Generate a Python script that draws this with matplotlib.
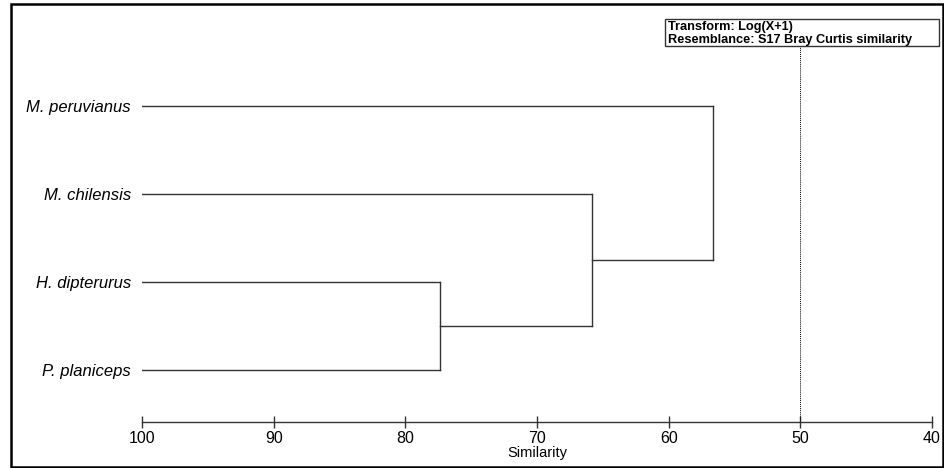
import numpy as np
import matplotlib.pyplot as plt
from matplotlib.patches import Rectangle

plt.rcParams['font.family'] = ['Liberation Sans', 'DejaVu Sans']

# leaves top to bottom
species = ['M. peruvianus', 'M. chilensis', 'H. dipterurus', 'P. planiceps']
# merges: (cluster a, cluster b, similarity) - clusters are leaf index or 'n#' for merged node
merges = [(2, 3, 77.4), (1, 'n0', 65.8), (0, 'n1', 56.6)]
xticks = [100, 90, 80, 70, 60, 50, 40]
cut_level = 50
legend_lines = ['Transform: Log(X+1)', 'Resemblance: S17 Bray Curtis similarity']

W, H = 944, 468
fig = plt.figure(figsize=(W / 100, H / 100), dpi=100)

# axes placed so that 100 -> 142px, 40 -> 932px, axis line at 422px
top_px, bot_px = 10, 422
ax = fig.add_axes([142 / W, 1 - bot_px / H, (932 - 142) / W, (bot_px - top_px) / H])

spacing = 88.0
leaf_y0 = 370  # px of bottom leaf
n = len(species)
ypos = {i: n - 1 - i for i in range(n)}  # data y of leaves
ylo = (leaf_y0 - bot_px) / spacing
yhi = (leaf_y0 - top_px) / spacing
ax.set_xlim(100, 40)
ax.set_ylim(ylo, yhi)

lc = '#333333'
xpos = {i: 100 for i in range(n)}
for k, (a, b, h) in enumerate(merges):
    ya, yb = ypos[a], ypos[b]
    ax.plot([xpos[a], h], [ya, ya], color=lc, lw=1.0)
    ax.plot([xpos[b], h], [yb, yb], color=lc, lw=1.0)
    ax.plot([h, h], [ya, yb], color=lc, lw=1.0)
    ypos['n%d' % k] = (ya + yb) / 2
    xpos['n%d' % k] = h

# cut line
ax.plot([cut_level, cut_level], [ylo, (leaf_y0 - 46) / spacing], color='black',
        lw=0.7, ls=(0, (1, 1)), clip_on=False)

for s in ['top', 'right', 'left']:
    ax.spines[s].set_visible(False)
ax.spines['bottom'].set_color(lc)
ax.spines['bottom'].set_linewidth(1.0)
ax.set_xticks(xticks)
ax.set_xticklabels([str(t) for t in xticks], fontsize=11.5)
ax.tick_params(axis='x', direction='inout', length=9, width=1.0, color=lc, pad=2)

ax.set_yticks([ypos[i] for i in range(n)])
ax.set_yticklabels(species, fontsize=12, style='italic')
ax.tick_params(axis='y', length=0, pad=8)
ax.set_xlabel('Similarity', fontsize=10.5, labelpad=0)

# outer frame
fig.patches.append(Rectangle((11 / W, 1 - 467 / H), (943 - 11) / W, (467 - 4) / H,
                             transform=fig.transFigure, fill=False,
                             edgecolor='black', lw=1.8))

# info box
fig.patches.append(Rectangle((665 / W, 1 - 46 / H), (939 - 665) / W, (46 - 19) / H,
                             transform=fig.transFigure, fill=False,
                             edgecolor='#333333', lw=1.0))
for i, t in enumerate(legend_lines):
    fig.text(668 / W, 1 - (27 + 12.5 * i) / H, t, fontsize=9.2, fontweight='bold',
             va='center', ha='left')

fig.savefig('out.png', dpi=100)
